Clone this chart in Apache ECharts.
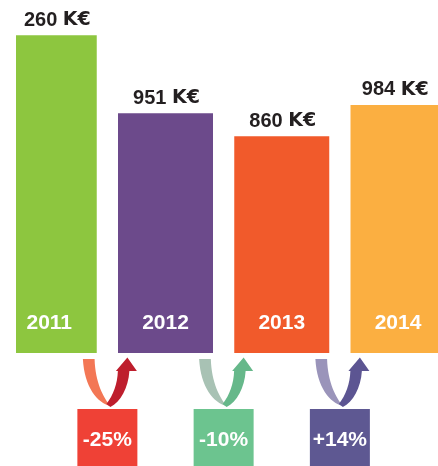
<!DOCTYPE html>
<html>
<head>
<meta charset="utf-8">
<script src="https://cdn.jsdelivr.net/npm/echarts@6/dist/echarts.min.js"></script>
<style>
  html, body { margin: 0; padding: 0; background: #ffffff; }
  #chart { width: 438px; height: 466px; }
</style>
</head>
<body>
<div id="chart"></div>
<script>
// ---- data ----
const years = ['2011', '2012', '2013', '2014'];
const revenues = [1260, 951, 860, 984];
const revenueLabels = ['260', '951', '860', '984'];
const unitLabel = 'K€';
const changeLabels = ['-25%', '-10%', '+14%'];

// ---- styles ----
const barColors = ['#8DC63F', '#6C4A8B', '#F15A2B', '#FBAF41'];
const boxColors = ['#EF4136', '#6CC48F', '#5E5892'];
const arrowLight = ['#F37755', '#A8C2B4', '#9A94BA'];
const arrowDark = ['#BE1E2D', '#66B88A', '#5C5592'];
const BAR_W = 95;
const FONT = '"Liberation Sans", Arial, Helvetica, sans-serif';

const chart = echarts.init(document.getElementById('chart'), null, { renderer: 'canvas' });

function renderBar(params, api) {
  const i = api.value(0);
  const top = api.coord([i, api.value(1)]);
  const bot = api.coord([i, 0]);
  const cs = params.coordSys;
  const left = top[0] - BAR_W / 2;
  const right = top[0] + BAR_W / 2;
  const visL = Math.max(left, cs.x);
  const visR = Math.min(right, cs.x + cs.width);
  return {
    type: 'group',
    children: [
      { type: 'rect', shape: { x: left, y: top[1], width: BAR_W, height: bot[1] - top[1] },
        style: { fill: barColors[i] } },
      { type: 'text', x: (visL + visR) / 2 + 1, y: top[1] - 15,
        style: {
          text: '{n|' + revenueLabels[i] + ' }{u|' + unitLabel + '}',
          align: 'center', verticalAlign: 'middle',
          rich: {
            n: { fill: '#231F20', font: 'bold 20px ' + FONT },
            u: { fill: '#231F20', font: 'bold 19px "DejaVu Sans", sans-serif' }
          }
        } },
      { type: 'text', x: top[0], y: bot[1] - 29.5,
        style: { text: years[i], fill: '#ffffff', font: 'bold 21px ' + FONT,
                 align: 'center', verticalAlign: 'middle' } }
    ]
  };
}

function pathAt(cx, cy, pts) {
  return pts.map(c => {
    const cmd = c[0];
    const nums = c.slice(1);
    const out = [];
    for (let k = 0; k < nums.length; k += 2) {
      out.push((cx + nums[k]).toFixed(2) + ' ' + (cy + nums[k + 1]).toFixed(2));
    }
    return cmd + ' ' + out.join(' ');
  }).join(' ');
}

const leftArm = [
  ['M', -24.5, 6], ['L', -12.8, 6],
  ['C', -12, 30, -4, 44, 3, 53],
  ['C', -10, 50, -23, 34, -24.5, 6], ['Z']
];
const rightArm = [
  ['M', -1, 51], ['L', 3, 54],
  ['C', 13, 49, 21, 35, 22, 18],
  ['L', 29.5, 18], ['L', 20, 4.5], ['L', 8.5, 18], ['L', 10.5, 18],
  ['C', 10, 31, 6, 42, -1, 51], ['Z']
];

function renderChange(params, api) {
  const j = params.dataIndex;
  const p = api.coord([api.value(0), 0]);
  const cx = p[0], by = p[1];
  return {
    type: 'group',
    children: [
      { type: 'path', shape: { pathData: pathAt(cx, by, leftArm) }, style: { fill: arrowLight[j] } },
      { type: 'path', shape: { pathData: pathAt(cx, by, rightArm) }, style: { fill: arrowDark[j] } },
      { type: 'rect', shape: { x: cx - 30, y: by + 56, width: 60, height: 60 }, style: { fill: boxColors[j] } },
      { type: 'text', x: cx, y: by + 87.5,
        style: { text: changeLabels[j], fill: '#ffffff', font: 'bold 21px ' + FONT,
                 align: 'center', verticalAlign: 'middle' } }
    ]
  };
}

chart.setOption({
  backgroundColor: '#ffffff',
  animation: false,
  grid: { left: 16, right: 0, top: 0, bottom: 113 },
  xAxis: { type: 'value', min: -0.286, max: 3.344, show: false },
  yAxis: { type: 'value', min: 0, max: 1400, show: false },
  series: [
    {
      type: 'custom',
      clip: true,
      renderItem: renderBar,
      encode: { x: 0, y: 1 },
      data: years.map((y, i) => [i, revenues[i]])
    },
    {
      type: 'custom',
      clip: false,
      renderItem: renderChange,
      encode: { x: 0, y: 1 },
      data: changeLabels.map((c, i) => [i + 0.5, 0])
    }
  ]
});
</script>
</body>
</html>
